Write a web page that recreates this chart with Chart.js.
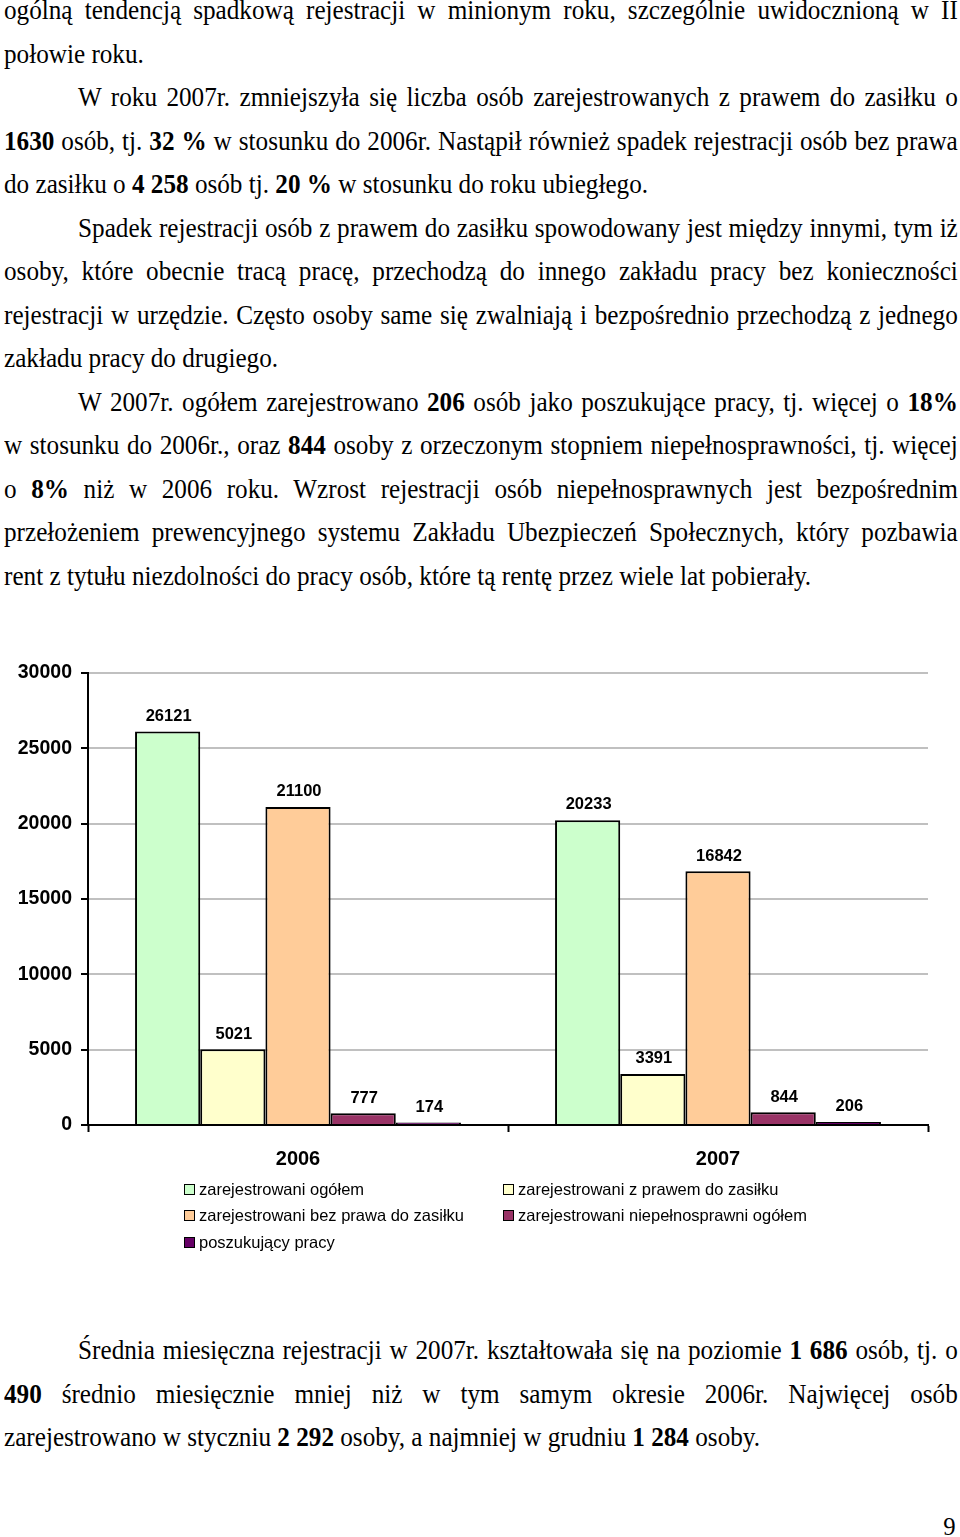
<!DOCTYPE html>
<html lang="pl">
<head>
<meta charset="utf-8">
<title>Rejestracja 2006-2007</title>
<script src="https://cdn.jsdelivr.net/npm/chart.js@4/dist/chart.umd.min.js"></script>
<style>
  html, body { margin: 0; padding: 0; background: #fff; }
  body { width: 960px; height: 1537px; position: relative; overflow: hidden; }
  .text { position: absolute; left: 4px; width: 1004px;
          transform: scaleX(0.95); transform-origin: 0 0;
          font-family: "Times New Roman", "Liberation Serif", serif; font-size: 26.5px;
          line-height: 43.5px; color: #000; }
  .text div { white-space: nowrap; }
  .text .j { text-align: justify; text-align-last: justify; white-space: normal; }
  .text .in { padding-left: 78px; }
  #chartBox { position: absolute; left: 0; top: 650px; width: 960px; height: 530px; }
  #legend { position: absolute; left: 184px; top: 1176px; display: grid;
            grid-template-columns: 319px auto; grid-auto-rows: 26.5px;
            font-family: Arial, "Liberation Sans", sans-serif; font-size: 16.5px; color: #000; }
  #legend .item { display: flex; align-items: center; white-space: nowrap; }
  #legend .box { width: 9px; height: 9px; border: 1.5px solid #000; margin-right: 4px; }
  .page { position: absolute; right: 4px; top: 1512px; transform: scaleX(0.95);
          font-family: "Times New Roman", "Liberation Serif", serif; font-size: 26px; }
</style>
</head>
<body>

<div class="text" style="top:-11px">
  <div class="j">ogólną tendencją spadkową rejestracji w minionym roku, szczególnie uwidocznioną w II</div>
  <div>połowie roku.</div>
  <div class="j in">W roku 2007r. zmniejszyła się liczba osób zarejestrowanych z prawem do zasiłku o</div>
  <div class="j"><b>1630</b> osób, tj. <b>32 %</b> w stosunku do 2006r. Nastąpił również spadek rejestracji osób bez prawa</div>
  <div>do zasiłku o <b>4 258</b> osób tj. <b>20 %</b> w stosunku do roku ubiegłego.</div>
  <div class="j in">Spadek rejestracji osób z prawem do zasiłku spowodowany jest między innymi, tym iż</div>
  <div class="j">osoby, które obecnie tracą pracę, przechodzą do innego zakładu pracy bez konieczności</div>
  <div class="j">rejestracji w urzędzie. Często osoby same się zwalniają i bezpośrednio przechodzą z jednego</div>
  <div>zakładu pracy do drugiego.</div>
  <div class="j in">W 2007r. ogółem zarejestrowano <b>206</b> osób jako poszukujące pracy, tj. więcej o <b>18%</b></div>
  <div class="j">w stosunku do 2006r., oraz <b>844</b> osoby z orzeczonym stopniem niepełnosprawności, tj. więcej</div>
  <div class="j">o <b>8%</b> niż w 2006 roku. Wzrost rejestracji osób niepełnosprawnych jest bezpośrednim</div>
  <div class="j">przełożeniem prewencyjnego systemu Zakładu Ubezpieczeń Społecznych, który pozbawia</div>
  <div>rent z tytułu niezdolności do pracy osób, które tą rentę przez wiele lat pobierały.</div>
</div>

<div id="chartBox"><canvas id="regChart"></canvas></div>
<div id="legend"></div>

<div class="text" style="top:1329px">
  <div class="j in">Średnia miesięczna rejestracji w 2007r. kształtowała się na poziomie <b>1 686</b> osób, tj. o</div>
  <div class="j"><b>490</b> średnio miesięcznie mniej niż w tym samym okresie 2006r. Najwięcej osób</div>
  <div>zarejestrowano w styczniu <b>2 292</b> osoby, a najmniej w grudniu <b>1 284</b> osoby.</div>
</div>
<div class="page">9</div>

<script>
// Chart data
const years = ["2006", "2007"];
const ogolem = [26121, 20233];
const zPrawem = [5021, 3391];
const bezPrawa = [21100, 16842];
const niepelnosprawni = [777, 844];
const poszukujacy = [174, 206];
const yMax = 30000;
const yStep = 5000;

const sans = "Arial, 'Liberation Sans', sans-serif";

// value labels above the bars
const valueLabels = {
    id: "valueLabels",
    afterDatasetsDraw(chart) {
        const ctx = chart.ctx;
        ctx.save();
        ctx.font = "bold 16.5px " + sans;
        ctx.fillStyle = "#000";
        ctx.textAlign = "center";
        ctx.textBaseline = "bottom";
        chart.data.datasets.forEach(function (ds, i) {
            chart.getDatasetMeta(i).data.forEach(function (bar, j) {
                ctx.fillText(ds.data[j], bar.x + 1, bar.y - 7);
            });
        });
        ctx.restore();
    }
};

function makeSet(label, data, color) {
    return {
        label: label,
        data: data,
        backgroundColor: color,
        borderColor: "#000",
        borderWidth: 2,
        borderSkipped: "bottom"
    };
}

const ctx = document.getElementById("regChart").getContext("2d");
const regChart = new Chart(ctx, {
    type: "bar",
    data: {
        labels: years,
        datasets: [
            makeSet("zarejestrowani ogółem", ogolem, "#CCFFCC"),
            makeSet("zarejestrowani z prawem do zasiłku", zPrawem, "#FFFFCC"),
            makeSet("zarejestrowani bez prawa do zasiłku", bezPrawa, "#FFCC99"),
            makeSet("zarejestrowani niepełnosprawni ogółem", niepelnosprawni, "#993366"),
            makeSet("poszukujący pracy", poszukujacy, "#660066")
        ]
    },
    options: {
        responsive: true,
        maintainAspectRatio: false,
        animation: false,
        layout: { padding: { top: 23, right: 32, left: 0, bottom: 0 } },
        datasets: { bar: { categoryPercentage: 0.776, barPercentage: 1.0 } },
        plugins: {
            legend: { display: false },
            tooltip: { enabled: false }
        },
        scales: {
            x: {
                afterFit: function (s) { s.height = 55; },
                grid: {
                    offset: true,
                    drawOnChartArea: false,
                    tickLength: 7,
                    tickColor: "#000",
                    tickWidth: 2
                },
                border: { color: "#000", width: 2 },
                ticks: { color: "#000", padding: 15, font: { family: sans, size: 20, weight: "bold" } }
            },
            y: {
                min: 0,
                max: yMax,
                afterFit: function (s) { s.width = 88; },
                grid: {
                    color: "#c0c0c0",
                    lineWidth: 2,
                    tickLength: 7,
                    tickColor: "#000",
                    tickWidth: 2
                },
                border: { color: "#000", width: 2 },
                ticks: {
                    stepSize: yStep,
                    padding: 9,
                    color: "#000",
                    font: { family: sans, size: 19.5, weight: "bold" },
                    callback: function (v) { return String(v); }
                }
            }
        }
    },
    plugins: [valueLabels]
});

// legend built from the chart datasets
const legendEl = document.getElementById("legend");
regChart.data.datasets.forEach(function (ds) {
    const item = document.createElement("div");
    item.className = "item";
    const box = document.createElement("span");
    box.className = "box";
    box.style.background = ds.backgroundColor;
    item.appendChild(box);
    item.appendChild(document.createTextNode(ds.label));
    legendEl.appendChild(item);
});
</script>
</body>
</html>
